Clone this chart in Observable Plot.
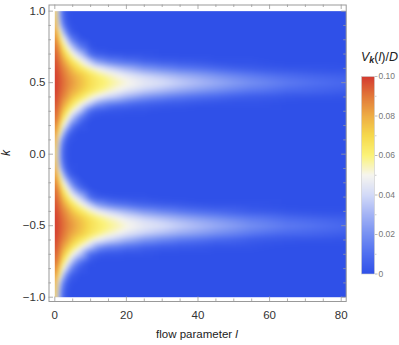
<!DOCTYPE html>
<html><head><meta charset="utf-8">
<script src="https://cdn.jsdelivr.net/npm/d3@7"></script>
<script src="https://cdn.jsdelivr.net/npm/@observablehq/plot@0.6"></script>
<style>
body{margin:0;background:#fff;font-family:"Liberation Sans",Arial,sans-serif;}
#wrap{position:relative;width:399px;height:345px;overflow:hidden;}
#bar{position:absolute;left:350px;top:60px;}
#ctitle{position:absolute;left:361px;top:50px;font-size:12.5px;color:#222;white-space:nowrap;font-family:"Liberation Sans",Arial,sans-serif;}
#ctitle sub{font-size:9px;vertical-align:-2px;}
</style></head>
<body><div id="wrap"><div id="ctitle"><i>V</i><sub><b><i>k</i></b></sub>(<i>l</i>)/<i>D</i></div></div>
<script>
// flow parameter samples (l)
const lValues = [0, 0.5, 1, 1.5, 2, 3, 4, 5, 7, 10, 12, 15, 20, 25, 30, 35, 45, 55, 65, 81.4];
// distance from the peak at |k| = 0.5
const dkOffsets = [0, 0.05, 0.1, 0.15, 0.2, 0.25, 0.3, 0.35, 0.4, 0.45, 0.5];
// V_k(l)/D, one row per l, one column per offset
const vRows = [
  [0.100,0.100,0.099,0.098,0.096,0.094,0.092,0.090,0.088,0.086,0.085],
  [0.099,0.099,0.098,0.096,0.093,0.090,0.086,0.081,0.074,0.066,0.060],
  [0.097,0.096,0.094,0.091,0.088,0.085,0.075,0.063,0.046,0.037,0.035],
  [0.095,0.094,0.092,0.089,0.085,0.079,0.070,0.058,0.035,0.027,0.024],
  [0.093,0.092,0.089,0.085,0.078,0.068,0.055,0.038,0.021,0.013,0.011],
  [0.089,0.088,0.085,0.078,0.068,0.057,0.043,0.022,0.008,0.004,0.003],
  [0.086,0.084,0.080,0.071,0.059,0.045,0.026,0.008,0.002,0.001,0.001],
  [0.083,0.081,0.074,0.064,0.050,0.032,0.013,0.003,0.001,0,0],
  [0.077,0.075,0.066,0.053,0.036,0.014,0.003,0,0,0,0],
  [0.068,0.066,0.054,0.035,0.008,0.001,0,0,0,0,0],
  [0.064,0.061,0.048,0.022,0.004,0,0,0,0,0,0],
  [0.059,0.055,0.040,0.015,0.002,0,0,0,0,0,0],
  [0.052,0.046,0.030,0.010,0.001,0,0,0,0,0,0],
  [0.046,0.039,0.022,0.006,0.001,0,0,0,0,0,0],
  [0.042,0.034,0.017,0.004,0,0,0,0,0,0,0],
  [0.037,0.029,0.013,0.003,0,0,0,0,0,0,0],
  [0.028,0.021,0.008,0.001,0,0,0,0,0,0,0],
  [0.020,0.014,0.004,0.001,0,0,0,0,0,0,0],
  [0.014,0.009,0.002,0,0,0,0,0,0,0,0],
  [0.008,0.005,0.001,0,0,0,0,0,0,0,0]
];
const xMajor = [0, 20, 40, 60, 80];
const xMinor = [5, 10, 15, 25, 30, 35, 45, 50, 55, 65, 70, 75];
const yMajor = [-1, -0.5, 0, 0.5, 1];
const yMinor = [-0.9,-0.8,-0.7,-0.6,-0.4,-0.3,-0.2,-0.1,0.1,0.2,0.3,0.4,0.6,0.7,0.8,0.9];
const barTicks = [0, 0.02, 0.04, 0.06, 0.08, 0.1];
const barMinor = [0.01, 0.03, 0.05, 0.07, 0.09];
const palette = ["#2f50e8","#4f6ef0","#7690f2","#a3b3f5","#d3daf8","#f6f5ef","#fbf378","#f6d94c","#eead45","#e2783a","#d43a30"];

// build grid points using the symmetry about k = ±0.5
const grid = [];
const seen = new Set();
lValues.forEach((l, i) => {
  dkOffsets.forEach((d, j) => {
    for (const k of [0.5 + d, 0.5 - d, -0.5 + d, -0.5 - d]) {
      const key = l + "|" + k.toFixed(3);
      if (seen.has(key)) continue;
      seen.add(key);
      grid.push({l, k, v: vRows[i][j]});
    }
  });
});

const W = 399, H = 345, mL = 48.5, mR = 53.3, mT = 4.5, mB = 44;
const innerW = W - mL - mR, innerH = H - mT - mB;
const colorOpts = {type: "linear", domain: [0, 0.1], interpolate: d3.piecewise(d3.interpolateRgb, palette), clamp: true};
const font = "Liberation Sans, Arial, sans-serif";
const frameC = "#999";

const main = Plot.plot({
  width: W, height: H, marginLeft: mL, marginRight: mR, marginTop: mT, marginBottom: mB,
  style: {fontFamily: font, fontSize: "11.5px", color: "#333", background: "transparent"},
  x: {domain: [-1.62, 81.4], axis: null},
  y: {domain: [-1.03, 1.043], axis: null},
  color: colorOpts,
  marks: [
    Plot.raster(grid, {x: "l", y: "k", fill: "v", interpolate: "barycentric", blur: 2, x1: 0, x2: 81.4, y1: -1, y2: 1}),
    Plot.frame({stroke: frameC, strokeWidth: 1}),
    Plot.tickX(xMajor, {x: d => d, insetTop: innerH - 4.5, stroke: frameC, strokeWidth: 0.8}),
    Plot.tickX(xMinor, {x: d => d, insetTop: innerH - 2.5, stroke: frameC, strokeWidth: 0.8}),
    Plot.tickX(xMajor, {x: d => d, insetBottom: innerH - 4.5, stroke: frameC, strokeWidth: 0.8}),
    Plot.tickX(xMinor, {x: d => d, insetBottom: innerH - 2.5, stroke: frameC, strokeWidth: 0.8}),
    Plot.tickY(yMajor, {y: d => d, insetRight: innerW - 4.5, stroke: frameC, strokeWidth: 0.8}),
    Plot.tickY(yMinor, {y: d => d, insetRight: innerW - 2.5, stroke: frameC, strokeWidth: 0.8}),
    Plot.tickY(yMajor, {y: d => d, insetLeft: innerW - 4.5, stroke: frameC, strokeWidth: 0.8}),
    Plot.tickY(yMinor, {y: d => d, insetLeft: innerW - 2.5, stroke: frameC, strokeWidth: 0.8}),
    Plot.axisX({ticks: xMajor, anchor: "bottom", tickSize: 0, tickPadding: 9, label: null, tickFormat: d => String(d)}),
    Plot.axisY({ticks: yMajor, anchor: "left", tickSize: 0, tickPadding: 3.5, label: null, tickFormat: d3.format(".1f")})
  ]
});

const svg = d3.select(main);
svg.append("text")
  .attr("transform", "translate(10,153) rotate(-90)")
  .attr("text-anchor", "middle")
  .attr("font-family", font).attr("font-size", 12).attr("font-style", "italic").attr("fill", "#222")
  .text("k");
const xl = svg.append("text")
  .attr("x", 197).attr("y", 337.5).attr("text-anchor", "middle")
  .attr("font-family", font).attr("font-size", 11.5).attr("fill", "#222");
xl.append("tspan").text("flow parameter ");
xl.append("tspan").attr("font-style", "italic").text("l");

const wrap = document.getElementById("wrap");
wrap.appendChild(main);
main.style.position = "absolute"; main.style.left = "0"; main.style.top = "0";

const bar = Plot.plot({
  width: 50, height: 220, marginLeft: 11, marginRight: 26, marginTop: 16, marginBottom: 6.5,
  style: {fontFamily: font, fontSize: "8.5px", color: "#777", background: "transparent", overflow: "visible"},
  x: {domain: [0, 1], axis: null},
  y: {domain: [0, 0.1], axis: null},
  color: colorOpts,
  marks: [
    Plot.raster({fill: (x, y) => y, x1: 0, x2: 1, y1: 0, y2: 0.1}),
    Plot.frame({stroke: "#ccc", strokeWidth: 0.6}),
    Plot.axisY({ticks: barTicks, anchor: "right", tickSize: 2.5, tickPadding: 1.5, label: null, stroke: "#bbb",
      tickFormat: d => d === 0 ? "0" : d3.format(".2f")(d)}),
    Plot.axisY({ticks: barMinor, anchor: "right", tickSize: 1.5, text: null, label: null, stroke: "#ccc"})
  ]
});
bar.id = "bar";
wrap.appendChild(bar);
</script>
</body></html>
